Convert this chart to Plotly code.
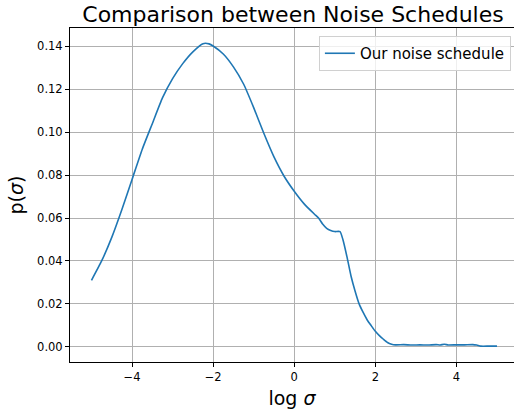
import plotly.graph_objects as go

log_sigma = [-5.0, -4.75, -4.5, -4.25, -4.0, -3.75, -3.5, -3.25, -3.0, -2.75, -2.5, -2.25, -2.1,
             -2.0, -1.75, -1.5, -1.25, -1.0, -0.75, -0.5, -0.25, 0.0, 0.25, 0.5, 0.6, 0.7, 0.8,
             0.9, 1.0, 1.13, 1.2, 1.3, 1.4, 1.5, 1.6, 1.7, 1.8, 1.9, 2.0, 2.1, 2.2, 2.3, 2.4, 2.5,
             2.7, 2.9, 3.1, 3.3, 3.5, 3.6, 3.7, 3.8, 4.0, 4.2, 4.4, 4.5, 4.6, 4.8, 5.0]
p_sigma = [0.031, 0.040, 0.051, 0.064, 0.078, 0.092, 0.104, 0.116, 0.125, 0.132, 0.1375, 0.1413, 0.1412,
           0.1402, 0.1365, 0.1305, 0.1225, 0.1115, 0.0995, 0.0885, 0.0795, 0.0725, 0.0665, 0.0618, 0.0600,
           0.0572, 0.0552, 0.0542, 0.0537, 0.0537, 0.0500, 0.0420, 0.0330, 0.0260, 0.0200, 0.0160, 0.0125,
           0.0098, 0.0072, 0.0052, 0.0035, 0.0020, 0.0012, 0.0009, 0.0010, 0.0008, 0.0009, 0.0008, 0.0010,
           0.0008, 0.0012, 0.0008, 0.0009, 0.0009, 0.0010, 0.0008, 0.0003, 0.0003, 0.0003]

x_ticks = [-4, -2, 0, 2, 4]
y_ticks = [0.00, 0.02, 0.04, 0.06, 0.08, 0.10, 0.12, 0.14]

fig = go.Figure()
fig.add_trace(go.Scatter(x=log_sigma, y=p_sigma, mode="lines", name="Our noise schedule",
                         line=dict(color="#1f77b4", width=1.6, shape="spline", smoothing=0.5)))

fig.update_layout(
    width=514, height=411,
    margin=dict(l=70, r=0, t=28, b=49, autoexpand=False),
    paper_bgcolor="white", plot_bgcolor="white",
    font=dict(family="DejaVu Sans", color="black", size=11),
    title=dict(text="Comparison between Noise Schedules", x=0.57, xanchor="center",
               y=0.966, yanchor="middle", font=dict(size=22, color="black")),
    showlegend=True,
    legend=dict(x=0.993, y=0.976, xanchor="right", yanchor="top",
                bgcolor="rgba(255,255,255,0.8)", bordercolor="#d0d0d0", borderwidth=1,
                font=dict(size=15, color="black")),
)
fig.update_xaxes(range=[-5.53, 5.42], tickvals=x_ticks, ticktext=["−4", "−2", "0", "2", "4"],
                 showgrid=True, gridcolor="#b0b0b0", gridwidth=0.8, zeroline=False,
                 showline=True, linecolor="black", linewidth=1, mirror=True,
                 ticks="outside", ticklen=4, tickcolor="black", tickfont=dict(size=11.5),
                 automargin=False,
                 title=dict(text="log <i>σ</i>", font=dict(size=19), standoff=8))
fig.update_yaxes(range=[-0.0071, 0.1486], tickvals=y_ticks, tickformat=".2f",
                 showgrid=True, gridcolor="#b0b0b0", gridwidth=0.8, zeroline=False,
                 showline=True, linecolor="black", linewidth=1, mirror=False,
                 ticks="outside", ticklen=4, tickcolor="black", tickfont=dict(size=11.5),
                 automargin=False,
                 title=dict(text="p(<i>σ</i>)", font=dict(size=19), standoff=8))

fig.write_html("out.html", config={"displayModeBar": False},
               post_script="document.body.style.margin='0px';")
